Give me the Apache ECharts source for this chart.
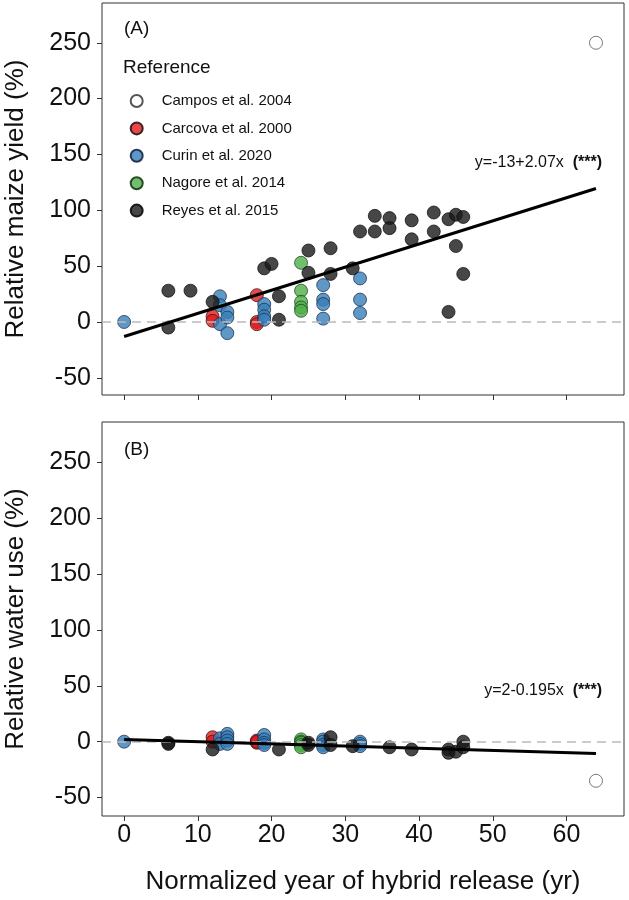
<!DOCTYPE html>
<html><head><meta charset="utf-8">
<script src="https://cdn.jsdelivr.net/npm/echarts@6/dist/echarts.min.js"></script>
<style>html,body{margin:0;padding:0;background:#fff}#c{width:629px;height:900px}</style>
</head><body><div id="c"></div>
<script>
// ---- data ----
const xTicks = [0, 10, 20, 30, 40, 50, 60];
const yTicks = [-50, 0, 50, 100, 150, 200, 250];
const refNames = ['Campos et al. 2004', 'Carcova et al. 2000', 'Curin et al. 2020', 'Nagore et al. 2014', 'Reyes et al. 2015'];

// Panel A: relative maize yield (%)
const camposA  = [[64, 250]];
const carcovaA = [[12, 5], [12, 1], [18, 24], [18, 0], [18, -2]];
const curinA   = [[0, 0], [13, 23], [13, 15], [13, -2], [14, 9], [14, 4], [14, -10],
                  [19, 16], [19, 11], [19, 5], [19, 2], [27, 33], [27, 20], [27, 16], [27, 3],
                  [32, 39], [32, 20], [32, 8]];
const nagoreA  = [[24, 53], [24, 28], [24, 18], [24, 13], [24, 10]];
const reyesA   = [[6, 28], [6, -5], [9, 28], [12, 18], [19, 48], [20, 52], [21, 23], [21, 2],
                  [25, 64], [25, 44], [28, 66], [28, 43], [31, 48], [32, 81], [34, 95], [34, 81],
                  [36, 93], [36, 84], [39, 91], [39, 74], [42, 98], [42, 81], [44, 92], [44, 9],
                  [45, 96], [45, 68], [46, 94], [46, 43]];
const fitA = [[0, -13], [64, 119.5]];
const eqA = 'y=-13+2.07x  ';

// Panel B: relative water use (%)
const camposB  = [[64, -35]];
const carcovaB = [[12, 4], [12, 0], [18, 1], [18, -1], [18, 0]];
const curinB   = [[0, 0], [13, 3], [13, -2], [14, 7], [14, 4], [14, 1], [14, -2],
                  [19, 6], [19, 2], [19, -1], [19, -3], [27, 2], [27, 0], [27, -3], [27, -5],
                  [32, 0], [32, -2], [32, -4]];
const nagoreB  = [[24, 2], [24, 0], [24, -1], [24, -3], [24, -5]];
const reyesB   = [[6, -1], [6, -2], [12, -7], [21, -7], [25, -1], [25, -3], [28, 4], [28, -3],
                  [31, -4], [36, -5], [39, -7], [44, -7], [44, -10], [45, -9], [46, 0], [46, -5]];
const fitB = [[0, 2], [64, -10.5]];
const eqB = 'y=2-0.195x  ';
const sigMark = '(***)';

// ---- styles ----
const FONT = 'Liberation Sans, Arial, sans-serif';
const fills = ['#ffffff', 'rgba(228,26,28,0.8)', 'rgba(55,126,184,0.8)', 'rgba(77,175,74,0.8)', 'rgba(25,25,25,0.8)'];
const borders = ['#555555', 'rgba(40,20,20,0.9)', 'rgba(20,40,70,0.9)', 'rgba(20,60,20,0.9)', 'rgba(10,10,10,0.9)'];

const grids = [
  {left: 102, top: 3, width: 522, height: 392, show: true, borderColor: '#333', borderWidth: 1, backgroundColor: '#fff'},
  {left: 102, top: 422, width: 522, height: 394, show: true, borderColor: '#333', borderWidth: 1, backgroundColor: '#fff'}
];

function xAxis(idx, showLabels) {
  return {
    type: 'value', gridIndex: idx, min: -3.0, max: 67.8, position: 'bottom',
    axisLine: {show: false, onZero: false},
    axisTick: {show: true, inside: false, length: 5, lineStyle: {color: '#333', width: 1}, customValues: xTicks},
    axisLabel: {show: showLabels, customValues: xTicks, fontSize: 25, color: '#111', fontFamily: FONT, margin: 7},
    splitLine: {show: false}
  };
}
function yAxis(idx, min, max) {
  return {
    type: 'value', gridIndex: idx, min: min, max: max, position: 'left',
    axisLine: {show: false, onZero: false},
    axisTick: {show: true, inside: false, length: 5, lineStyle: {color: '#333', width: 1}, customValues: yTicks},
    axisLabel: {show: true, customValues: yTicks, fontSize: 25, color: '#111', fontFamily: FONT, margin: 11},
    splitLine: {show: false}
  };
}

const dataA = [camposA, carcovaA, curinA, nagoreA, reyesA];
const dataB = [camposB, carcovaB, curinB, nagoreB, reyesB];
const series = [];
// dashed zero lines
[0, 1].forEach(g => series.push({
  type: 'line', xAxisIndex: g, yAxisIndex: g, data: [], z: 1,
  markLine: {silent: true, symbol: 'none', label: {show: false},
    lineStyle: {type: [9, 6], color: '#bbbbbb', width: 1.5}, data: [{yAxis: 0}]}
}));
[dataA, dataB].forEach((set, g) => {
  set.forEach((d, i) => series.push({
    type: 'scatter', name: refNames[i], xAxisIndex: g, yAxisIndex: g, data: d,
    symbol: 'circle', symbolSize: 13, z: 3,
    itemStyle: {color: fills[i], borderColor: borders[i], borderWidth: 0.8, opacity: 1}
  }));
});
[fitA, fitB].forEach((d, g) => series.push({
  type: 'line', xAxisIndex: g, yAxisIndex: g, data: d, symbol: 'none', z: 5,
  lineStyle: {color: '#000', width: 3}, silent: true
}));

const txt = (x, y, s, size, extra) => Object.assign({
  type: 'text', x: x, y: y, z: 10,
  style: Object.assign({text: s, fontSize: size, fontFamily: FONT, fill: '#111'}, extra || {})
});
const eqText = (y, eq) => ({
  type: 'text', x: 602, y: y, z: 10,
  style: {
    text: '{n|' + eq + '}{b|' + sigMark + '}', align: 'right', verticalAlign: 'middle',
    rich: {
      n: {fontSize: 16, fontFamily: FONT, fill: '#111'},
      b: {fontSize: 16, fontFamily: FONT, fill: '#111', fontWeight: 'bold'}
    }
  }
});

const option = {
  backgroundColor: '#fff',
  animation: false,
  grid: grids,
  xAxis: [xAxis(0, false), xAxis(1, true)],
  yAxis: [yAxis(0, -65.4, 285.6), yAxis(1, -66.5, 286)],
  legend: {
    data: refNames, orient: 'vertical', left: 124.7, top: 88.5,
    icon: 'circle', itemWidth: 40, itemHeight: 12, itemGap: 12.4,
    textStyle: {fontSize: 15, fontFamily: FONT, color: '#111', lineHeight: 15},
    selectedMode: false
  },
  graphic: [
    txt(124, 29, '(A)', 19, {verticalAlign: 'middle'}),
    txt(124, 450, '(B)', 19, {verticalAlign: 'middle'}),
    txt(123, 68, 'Reference', 19, {verticalAlign: 'middle'}),
    eqText(163, eqA),
    eqText(691, eqB),
    {type: 'text', x: 16, y: 199, rotation: Math.PI / 2, z: 10,
      style: {text: 'Relative maize yield (%)', fontSize: 26, fontFamily: FONT, fill: '#111', align: 'center', verticalAlign: 'middle'}},
    {type: 'text', x: 16, y: 619, rotation: Math.PI / 2, z: 10,
      style: {text: 'Relative water use (%)', fontSize: 26, fontFamily: FONT, fill: '#111', align: 'center', verticalAlign: 'middle'}},
    txt(363, 882, 'Normalized year of hybrid release (yr)', 26, {align: 'center', verticalAlign: 'middle'})
  ],
  series: series
};
const chart = echarts.init(document.getElementById('c'), null, {renderer: 'canvas'});
chart.setOption(option);
</script>
</body></html>
